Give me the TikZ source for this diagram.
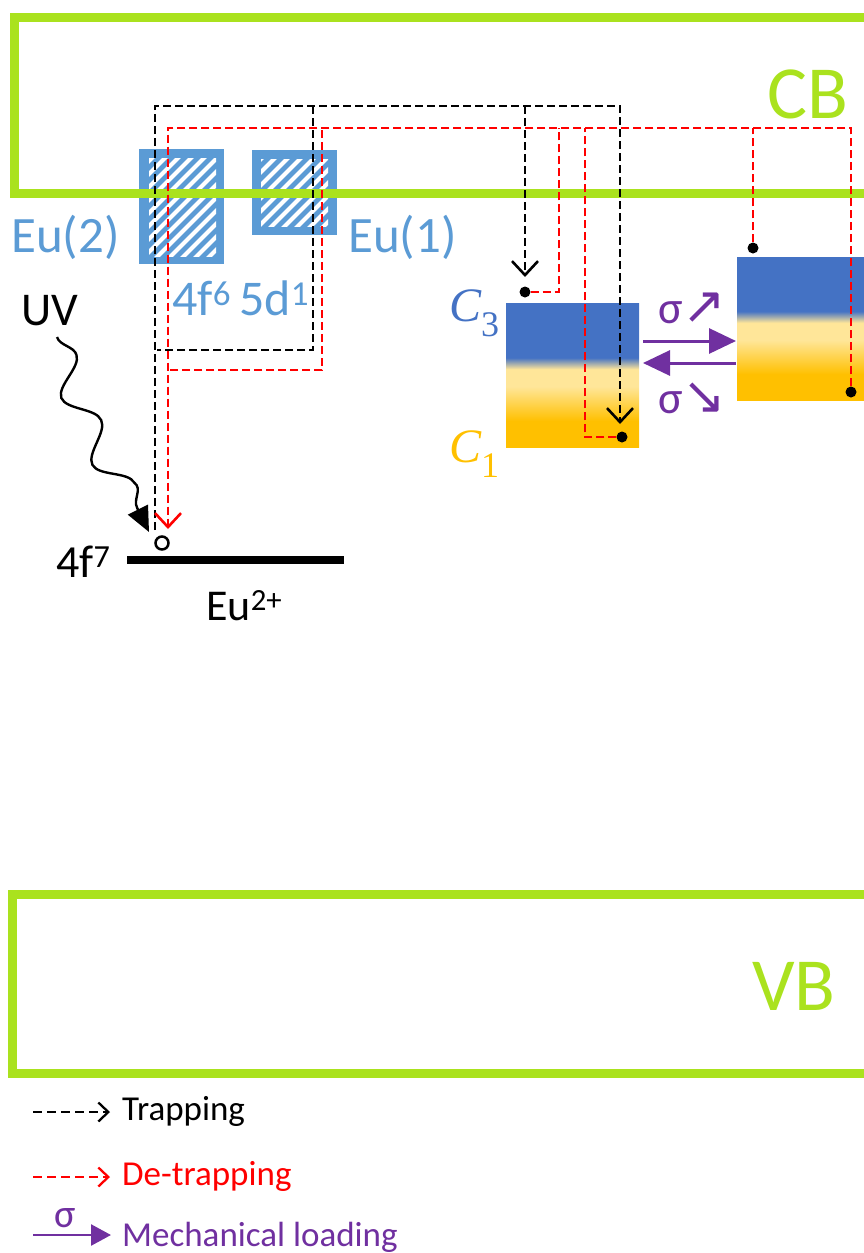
\documentclass[tikz,border=0pt]{standalone}
\usepackage{fontspec}
\setmainfont{Carlito}
\newfontfamily\djv{DejaVu Sans}
\newfontfamily\serifit{Liberation Serif}
\usetikzlibrary{arrows.meta,decorations.pathmorphing}
\definecolor{cbgreen}{RGB}{170,226,30}
\definecolor{eublue}{RGB}{91,155,213}
\definecolor{trBl}{RGB}{68,114,196}
\definecolor{trLy}{RGB}{255,230,153}
\definecolor{trOr}{RGB}{255,192,0}
\definecolor{mpurple}{RGB}{112,48,160}
\pgfdeclareverticalshading{trapshade}{100bp}{color(0bp)=(trOr); color(34bp)=(trOr); color(46bp)=(trLy); color(52bp)=(trLy); color(56bp)=(trBl); color(100bp)=(trBl)}
\newcommand\fsz[1]{\fontsize{#1}{#1}\selectfont}
\begin{document}
\begin{tikzpicture}[x=1pt,y=-1pt,
  trapline/.style={black, line width=2.3pt, dash pattern=on 8pt off 4pt},
  detrapline/.style={red, line width=2.3pt, dash pattern=on 8pt off 4pt},
  chev/.style={-{Straight Barb[length=14pt,width=26pt,line width=2.6pt]}},
  bandline/.style={cbgreen, line width=9pt},
  eubox/.style={fill=eublue, draw=none, inner sep=0pt},
  trapbox/.style={shade, shading=trapshade, draw=none, inner sep=0pt},
  dot/.style={circle, fill=black, inner sep=0pt, minimum size=11pt},
  lbl/.style={inner sep=0pt, anchor=base west},
  mecharrow/.style={mpurple, line width=3pt, -{Triangle[length=27pt,width=25pt]}}
]
\useasboundingbox (0,0) rectangle (864,1253);
\clip (0,0) rectangle (864,1253);

% Eu boxes with hatching
\node[eubox, minimum width=85pt, minimum height=115pt] (eu2box) at (181.5,206.5) {};
\node[eubox, minimum width=85pt, minimum height=85pt] (eu1box) at (294.5,192.5) {};
\begin{scope}
  \clip (149,158) rectangle (216,256);
  \foreach \i in {40,53,...,260} \draw[white, line width=4.2pt] (\i,270) -- ++(130,-130);
\end{scope}
\begin{scope}
  \clip (261,159) rectangle (328,226);
  \foreach \i in {180,193,...,360} \draw[white, line width=4.2pt] (\i,240) -- ++(110,-110);
\end{scope}

% bands
\draw[bandline] (900,17) -- (14,17) -- (14,193) -- (900,193);
\draw[bandline] (900,894) -- (12,894) -- (12,1073) -- (900,1073);
\node[lbl, text=cbgreen] (cbl) at (767,118) {\fsz{75}CB};
\node[lbl, text=cbgreen] (vbl) at (752,1010) {\fsz{75}VB};

% labels
\node[lbl, text=eublue] (eu2l) at (11,252) {\fsz{51}Eu(2)};
\node[lbl, text=eublue] (eu1l) at (348,252) {\fsz{51}Eu(1)};
\node[lbl, text=eublue] (fdl) at (172,315) {\fsz{50}4f\textsuperscript{6}\,5d\textsuperscript{1}};
\node[lbl] (uvl) at (21,325) {\fsz{47}UV};
\node[lbl] (f7l) at (56,577) {\fsz{46}4f\textsuperscript{7}};
\node[lbl] (eu2p) at (206,620) {\fsz{44}Eu\textsuperscript{2+}};

% ground level
\draw[line width=8pt] (127,560) -- (344,560);
\node[circle, draw=black, fill=white, line width=2.5pt, minimum size=13pt, inner sep=0pt] (hole) at (162,543) {};

% traps
\node[trapbox, minimum width=133pt, minimum height=144pt] (c3box) at (572.5,375) {};
\node[trapbox, minimum width=170pt, minimum height=143pt] (rbox) at (822,328.5) {};
\node[lbl, text=trBl] (c3l) at (449,321) {\fsz{48}\serifit\itshape C\textsubscript{\upshape\fsz{36}3}};
\node[lbl, text=trOr] (c1l) at (449,462) {\fsz{48}\serifit\itshape C\textsubscript{\upshape\fsz{36}1}};

% mechanical loading arrows
\coordinate (ma1) at (643,341);
\coordinate (mb1) at (736,341);
\coordinate (ma2) at (736,363);
\coordinate (mb2) at (643,363);
\draw[mecharrow] (ma1) -- (mb1);
\draw[mecharrow] (ma2) -- (mb2);
\node[lbl, text=mpurple] (sup) at (658,323) {\fsz{46}σ{\djv\fsz{52}↗}};
\node[lbl, text=mpurple] (sdn) at (658,413) {\fsz{46}σ{\djv\fsz{52}↘}};

% dots
\node[dot] (d1) at (525,292) {};
\node[dot] (d2) at (622,437) {};
\node[dot] (d3) at (753,248) {};
\node[dot] (d4) at (851,392) {};

% trapping (black)
\coordinate (k0) at (155,530);
\coordinate (k1) at (155,106);
\coordinate (k2) at (620,106);
\coordinate (k3) at (620,424);
\coordinate (k4) at (525,106);
\coordinate (k5) at (525,277);
\coordinate (k6) at (313,106);
\coordinate (k7) at (313,350);
\coordinate (k8) at (157,350);
\draw[trapline, chev] (k0) -- (k1) -- (k2) -- (k3);
\draw[trapline, chev] (k4) -- (k5);
\draw[trapline] (k6) -- (k7) -- (k8);

% de-trapping (red)
\coordinate (r1) at (851,128);
\coordinate (r2) at (168,128);
\coordinate (r3) at (168,529);
\coordinate (r4) at (753,128);
\coordinate (r5) at (559,292);
\coordinate (r6) at (559,128);
\coordinate (r7) at (585,437);
\coordinate (r8) at (585,128);
\coordinate (r9) at (322,130);
\coordinate (r10) at (322,370);
\coordinate (r11) at (168,370);
\draw[detrapline, chev] (d4) -- (r1) -- (r2) -- (r3);
\draw[detrapline] (d3) -- (r4);
\draw[detrapline] (d1) -- (r5) -- (r6);
\draw[detrapline] (d2) -- (r7) -- (r8);
\draw[detrapline] (r9) -- (r10) -- (r11);

% UV wave
\coordinate (uv0) at (57,337);
\coordinate (uv1) at (149,532);
\draw[line width=2.4pt, decorate, decoration={snake, amplitude=14pt, segment length=72pt, post length=24pt},
  -{Triangle[length=25pt,width=22pt]}] (uv0) .. controls (80,420) and (120,470) .. (uv1);

% legend
\coordinate (la1) at (33,1112);
\coordinate (lb1) at (110,1112);
\coordinate (la2) at (33,1177);
\coordinate (lb2) at (110,1177);
\coordinate (la3) at (33,1235);
\coordinate (lb3) at (111,1235);
\draw[black, line width=2pt, dash pattern=on 9pt off 5pt, -{Straight Barb[length=10pt,width=19pt,line width=2.3pt]}] (la1) -- (lb1);
\draw[red, line width=2pt, dash pattern=on 9pt off 5pt, -{Straight Barb[length=10pt,width=19pt,line width=2.3pt]}] (la2) -- (lb2);
\draw[mpurple, line width=2.5pt, -{Triangle[length=20pt,width=21pt]}] (la3) -- (lb3);
\node[lbl, text=mpurple] (lsig) at (54,1227) {\fsz{40}σ};
\node[lbl] (ltrap) at (122,1120) {\fsz{35}Trapping};
\node[lbl, text=red] (ldetrap) at (122,1185) {\fsz{35}De-trapping};
\node[lbl, text=mpurple] (lmech) at (122,1246) {\fsz{35}Mechanical loading};
\end{tikzpicture}
\end{document}
